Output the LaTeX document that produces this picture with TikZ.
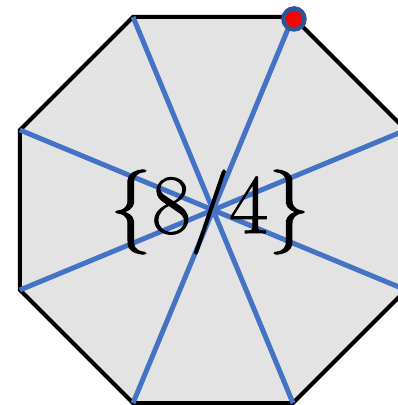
\documentclass[tikz,border=0pt]{standalone}
\usepackage{fontspec}
\newfontfamily\namefont{Latin Modern Roman}[UprightFeatures={FakeBold=1.2}]
\usetikzlibrary{calc}
\definecolor{octfill}{HTML}{E3E3E3}
\definecolor{diagblue}{HTML}{4472C4}
\definecolor{ringblue}{HTML}{2F5597}
\tikzset{
    octedge/.style={draw=black, line width=0.08cm, line join=miter, fill=octfill},
    diagline/.style={diagblue, line width=0.1cm},
    startdot/.style={circle, draw=ringblue, fill=red, line width=0.09cm, minimum size=0.42cm, inner sep=0pt}
}
\begin{document}
\begin{tikzpicture}[x=0.02cm, y=-0.02cm]
    \useasboundingbox (0,0) rectangle (398,405);
    \coordinate (c) at (213,210);
    % corners of the octagon, v6 is the top right one
    \foreach \i in {0,...,7}
    \coordinate (v\i) at ($(c)+({22.5+45*\i}:209)$);

    \path[octedge] (v0) -- (v1) -- (v2) -- (v3) -- (v4) -- (v5) -- (v6) -- (v7) -- cycle;

    \foreach \i/\j in {0/4, 1/5, 2/6, 3/7}
    \draw[diagline] (v\i) -- (v\j);

    \node[inner sep=0pt] (name) at (210,212) {\fontsize{48}{52}\namefont\{8/4\}};

    \node[startdot] (dot) at ($(v6)+(1,2)$) {};
\end{tikzpicture}
\end{document}
